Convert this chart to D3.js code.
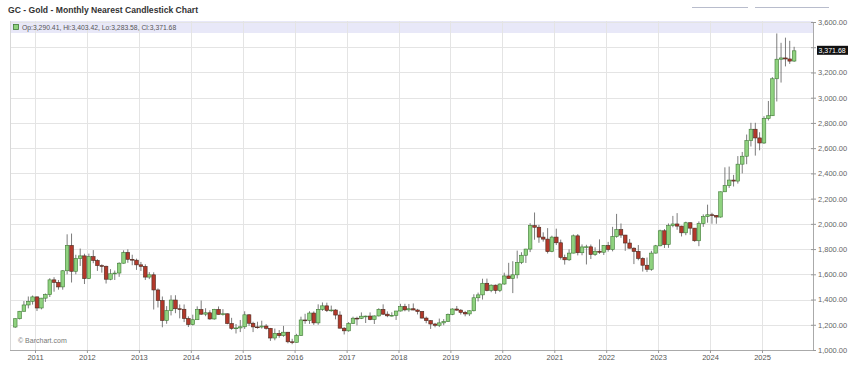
<!DOCTYPE html>
<html><head><meta charset="utf-8">
<script src="https://cdn.jsdelivr.net/npm/d3@7"></script>
<style>body{margin:0;background:#fff;}svg{display:block;font-family:"Liberation Sans",Arial,sans-serif;}</style>
</head><body>
<svg id="c" width="858" height="365"></svg>
<script>
const startMonth = "2010-08";
const opens = [
1182,1248,1307,1357,1386,
1421,1333,1411,1439,1556,1536,1500,1628,1829,1624,1725,1746,
1566,1740,1710,1669,1664,1561,1604,1610,1688,1773,1719,1712,
1675,1663,1578,1596,1476,1392,1234,1312,1396,1327,1323,1250,
1202,1240,1321,1284,1295,1246,1322,1282,1287,1210,1171,1175,
1184,1279,1212,1183,1182,1190,1172,1095,1132,1114,1141,1065,
1061,1116,1238,1234,1293,1215,1322,1350,1313,1317,1277,1173,
1152,1211,1252,1251,1268,1269,1242,1270,1322,1284,1271,1275,
1309,1345,1318,1327,1317,1305,1253,1233,1206,1196,1215,1226,
1283,1325,1316,1298,1286,1311,1414,1437,1529,1472,1514,1472,
1523,1587,1566,1596,1694,1751,1800,1986,1973,1895,1879,1780,
1895,1850,1734,1715,1768,1905,1771,1817,1818,1757,1783,1775,
1829,1796,1900,1954,1911,1848,1807,1782,1726,1672,1640,1768,
1826,1945,1836,1986,1999,1982,1929,2009,1966,1866,2002,2057,
2072,2067,2054,2254,2303,2347,2339,2473,2536,2660,2750,2681,
2641,2835,2857,3150,3305,3315,3307,3290.41];
const highs = [
1251,1310,1388,1424,1432,
1424,1413,1448,1569,1577,1555,1633,1917,1923,1755,1804,1763,
1764,1792,1720,1679,1668,1641,1630,1695,1790,1798,1755,1724,
1698,1679,1617,1616,1488,1424,1348,1434,1434,1361,1361,1267,
1280,1346,1392,1331,1315,1326,1345,1324,1290,1255,1206,1238,
1307,1284,1224,1224,1232,1205,1175,1170,1158,1191,1143,1089,
1128,1264,1287,1307,1306,1362,1377,1375,1352,1324,1307,1181,
1221,1264,1264,1298,1272,1298,1274,1331,1362,1306,1299,1310,
1366,1366,1365,1369,1326,1309,1265,1237,1215,1249,1245,1289,
1331,1349,1324,1310,1314,1442,1455,1565,1566,1520,1519,1528,
1613,1691,1704,1788,1775,1802,2005,2090,1992,1933,1966,1906,
1962,1875,1756,1798,1916,1919,1837,1834,1836,1814,1877,1831,
1857,1976,2079,2003,1912,1880,1814,1832,1735,1733,1786,1833,
1954,1959,2003,2063,2085,1985,2017,2011,1967,2019,2075,2152,
2088,2070,2256,2448,2454,2388,2537,2570,2708,2801,2801,2726,
2853,2974,3163,3509,3435,3476,3451,3403.42];
const lows = [
1175,1242,1305,1330,1360,
1309,1322,1381,1420,1462,1478,1478,1600,1535,1600,1666,1523,
1562,1688,1627,1613,1527,1553,1555,1580,1685,1691,1672,1635,
1626,1555,1562,1321,1337,1180,1208,1274,1292,1251,1221,1182,
1195,1238,1278,1268,1240,1240,1282,1273,1204,1160,1131,1142,
1167,1191,1142,1169,1170,1162,1072,1077,1097,1105,1053,1046,
1059,1111,1208,1207,1199,1200,1310,1301,1303,1243,1171,1123,
1145,1206,1195,1245,1214,1236,1206,1266,1277,1260,1265,1238,
1305,1307,1303,1315,1282,1250,1212,1167,1180,1182,1196,1222,
1276,1311,1281,1267,1270,1306,1385,1400,1465,1458,1446,1459,
1517,1565,1451,1567,1681,1690,1776,1874,1850,1859,1765,1775,
1832,1717,1677,1706,1766,1750,1751,1678,1721,1746,1762,1753,
1780,1782,1890,1889,1786,1805,1681,1711,1622,1618,1628,1765,
1822,1809,1810,1973,1953,1900,1910,1913,1858,1823,1976,2009,
2001,2001,2049,2253,2285,2296,2319,2400,2473,2613,2541,2583,
2633,2819,2855,2970,3120,3248,3268,3283.58];
const closes = [
1248,1307,1357,1386,1421,
1333,1411,1439,1556,1536,1500,1628,1829,1624,1725,1746,1566,
1740,1710,1669,1664,1561,1604,1610,1688,1773,1719,1712,1675,
1663,1578,1596,1476,1392,1234,1312,1396,1327,1323,1250,1202,
1240,1321,1284,1295,1246,1322,1282,1287,1210,1171,1175,1184,
1279,1212,1183,1182,1190,1172,1095,1132,1114,1141,1065,1060,
1116,1238,1234,1293,1215,1322,1350,1313,1317,1277,1173,1152,
1211,1252,1251,1268,1269,1242,1270,1322,1284,1271,1275,1309,
1345,1318,1327,1317,1305,1253,1233,1206,1196,1215,1226,1283,
1325,1316,1298,1286,1311,1414,1437,1529,1472,1514,1472,1523,
1587,1566,1596,1694,1751,1800,1986,1973,1895,1879,1780,1895,
1850,1734,1715,1768,1905,1771,1817,1818,1757,1783,1775,1829,
1796,1900,1954,1911,1848,1807,1782,1726,1672,1640,1768,1826,
1945,1836,1986,1999,1982,1929,2009,1966,1866,2002,2057,2072,
2067,2054,2254,2303,2347,2339,2473,2536,2660,2750,2681,2641,
2835,2857,3150,3305,3315,3307,3290,3371.68];
const yTicks = [1000,1200,1400,1600,1800,2000,2200,2400,2600,2800,3000,3200,3400,3600];
const hiddenTickLabels = [3400]; // covered by the last-price box in the reference
const yearTicks = [2011,2012,2013,2014,2015,2016,2017,2018,2019,2020,2021,2022,2023,2024,2025];
const title = "GC - Gold - Monthly Nearest Candlestick Chart";
const legendText = "Op:3,290.41, Hi:3,403.42, Lo:3,283.58, Cl:3,371.68";
const lastLabel = "3,371.68";

const svg = d3.select("#c");
const L = 10, R = 813, T = 21, B = 350;
const x = d3.scaleTime().domain([new Date(2011,0,1), new Date(2025,0,1)]).range([35, 762]);
const y = d3.scaleLinear().domain([1000, 3600]).range([B, T + 1]);
const fmt = d3.format(",.2f");

const [sy, sm] = startMonth.split("-").map(Number);
const data = opens.map((o,i) => ({d: new Date(sy, sm - 1 + i, 15), o, h: highs[i], l: lows[i], c: closes[i]}));

// header band
svg.append("rect").attr("x", L).attr("y", T).attr("width", R - L).attr("height", 12).attr("fill", "#e8e8f8");
// grid
const g = svg.append("g");
g.selectAll(".hg").data(yTicks).join("line").attr("x1", L).attr("x2", R)
  .attr("y1", d => Math.round(y(d)) + 0.5).attr("y2", d => Math.round(y(d)) + 0.5)
  .attr("stroke", "#e4e4e4").attr("stroke-width", 1);
g.selectAll(".vg").data(yearTicks).join("line")
  .attr("x1", d => Math.round(x(new Date(d,0,1))) + 0.5).attr("x2", d => Math.round(x(new Date(d,0,1))) + 0.5)
  .attr("y1", T).attr("y2", B).attr("stroke", "#e4e4e4");
// frame
svg.append("line").attr("x1", L + 0.5).attr("x2", L + 0.5).attr("y1", T).attr("y2", B).attr("stroke", "#d8d8d8");

// right axis
const ya = d3.axisRight(y).tickValues(yTicks)
  .tickFormat(d => hiddenTickLabels.includes(d) ? "" : fmt(d)).tickSize(4).tickSizeOuter(0);
const yg = svg.append("g").attr("transform", `translate(${R - 2},0)`).call(ya);
yg.select(".domain").attr("stroke", "#aaa").attr("transform", "translate(2,0)");
yg.selectAll(".tick line").attr("stroke", "#999").attr("x1", 0).attr("x2", 5);
yg.selectAll(".tick text").attr("x", 7).attr("fill", "#666").style("font-size", "7.5px");

// bottom axis
const xa = d3.axisBottom(x).tickValues(yearTicks.map(d => new Date(d,0,1))).tickFormat(d3.timeFormat("%Y")).tickSize(3).tickSizeOuter(0);
const xg = svg.append("g").attr("transform", `translate(0,${B})`).call(xa);
xg.select(".domain").attr("stroke", "#aaa").attr("d", `M${L},0.5H${R}`);
xg.selectAll(".tick line").attr("stroke", "#999");
xg.selectAll(".tick text").attr("fill", "#555").attr("y", 5).style("font-size", "7.5px");

// candles
const bw = 3.6;
const cg = svg.append("g");
cg.selectAll(".w").data(data).join("line")
  .attr("x1", d => x(d.d)).attr("x2", d => x(d.d))
  .attr("y1", d => y(d.h)).attr("y2", d => y(d.l))
  .attr("stroke", "#5a5a5a").attr("stroke-width", 0.8);
cg.selectAll(".b").data(data).join("rect")
  .attr("x", d => x(d.d) - bw/2).attr("width", bw)
  .attr("y", d => y(Math.max(d.o, d.c))).attr("height", d => Math.max(0.8, Math.abs(y(d.o) - y(d.c))))
  .attr("fill", d => d.c >= d.o ? "#8fd27f" : "#b3382a")
  .attr("stroke", d => d.c >= d.o ? "#3f7a35" : "#4a2a20").attr("stroke-width", 0.6);

// title & legend
svg.append("text").attr("x", 8).attr("y", 13).text(title)
  .attr("fill", "#333").style("font-size", "8.6px").style("font-weight", "bold");
svg.append("rect").attr("x", 13.5).attr("y", 24.5).attr("width", 5).attr("height", 5)
  .attr("fill", "#8fd27f").attr("stroke", "#3f7a35").attr("stroke-width", 0.8);
svg.append("text").attr("x", 22).attr("y", 30).text(legendText).attr("fill", "#555").style("font-size", "6.8px");
svg.append("text").attr("x", 18).attr("y", 343).text("© Barchart.com").attr("fill", "#777").style("font-size", "7px");

// last price label
const ly = y(closes[closes.length - 1]);
svg.append("rect").attr("x", 817).attr("y", ly - 5).attr("width", 31).attr("height", 9).attr("fill", "#111");
svg.append("text").attr("x", 818.5).attr("y", ly + 2.5).text(lastLabel).attr("fill", "#fff").style("font-size", "7px");

// top-right decoration lines
svg.append("line").attr("x1", 692).attr("x2", 748).attr("y1", 7.5).attr("y2", 7.5).attr("stroke", "#b8bccc");
svg.append("line").attr("x1", 755).attr("x2", 829).attr("y1", 7.5).attr("y2", 7.5).attr("stroke", "#b8bccc");
</script>
</body></html>
